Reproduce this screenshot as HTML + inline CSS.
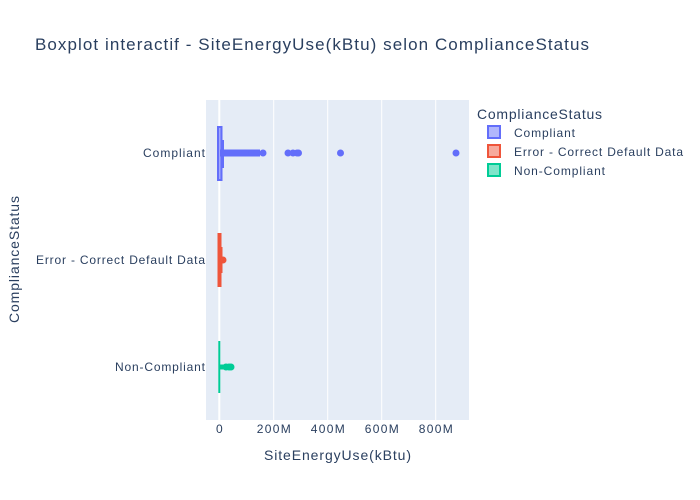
<!DOCTYPE html>
<html><head><style>body{margin:0;background:#fff}svg{display:block;font-family:"Liberation Sans",Arial,sans-serif}</style></head>
<body>
<svg width="700" height="500" xmlns="http://www.w3.org/2000/svg">
<rect width="700" height="500" fill="#fff"/>
<rect x="206" y="100" width="263" height="320" fill="#e5ecf6"/>
<g stroke="#fff" stroke-width="1">
<line x1="273.7" y1="100" x2="273.7" y2="420"/><line x1="327.7" y1="100" x2="327.7" y2="420"/>
<line x1="381.7" y1="100" x2="381.7" y2="420"/><line x1="435.7" y1="100" x2="435.7" y2="420"/>
</g>
<line x1="219.3" y1="100" x2="219.3" y2="420" stroke="#fff" stroke-width="2"/>
<g fill="#636efa" stroke="#636efa">
<rect x="218" y="127" width="3.5" height="53" fill="rgba(99,110,250,0.6)" stroke-width="2"/>
<line x1="223" y1="140" x2="223" y2="168" stroke-width="2"/>
<rect x="220" y="149.5" width="40" height="7" stroke="none"/>
<circle cx="245" cy="153" r="3"/><circle cx="252" cy="153" r="3"/><circle cx="257" cy="153" r="3"/><circle cx="263" cy="153" r="3"/>
<circle cx="288" cy="153" r="3"/><circle cx="293" cy="153" r="3"/><circle cx="297" cy="153" r="3"/><circle cx="298.5" cy="153" r="3"/>
<circle cx="340.5" cy="153" r="3"/><circle cx="456" cy="153" r="3"/>
</g>
<g fill="#ef553b" stroke="#ef553b">
<rect x="218.5" y="234" width="2" height="52" fill="rgba(239,85,59,0.6)" stroke-width="2"/>
<line x1="221.5" y1="247" x2="221.5" y2="273" stroke-width="2"/>
<rect x="219" y="257" width="4" height="6" stroke="none"/>
<circle cx="223" cy="260" r="3"/>
</g>
<g fill="#00cc96" stroke="#00cc96">
<line x1="219.3" y1="341" x2="219.3" y2="393" stroke-width="2"/>
<rect x="219" y="364.5" width="8" height="5" stroke="none"/>
<circle cx="226" cy="367" r="3"/><circle cx="229" cy="367" r="3"/><circle cx="231" cy="367" r="3"/>
</g>
<g fill="#2a3f5f" font-size="12">
<text x="219.3" y="433" text-anchor="middle">0</text>
<text x="273.7" y="433" text-anchor="middle" textLength="34">200M</text>
<text x="327.7" y="433" text-anchor="middle" textLength="34">400M</text>
<text x="381.7" y="433" text-anchor="middle" textLength="34">600M</text>
<text x="435.7" y="433" text-anchor="middle" textLength="34">800M</text>
<text x="143" y="157" textLength="62">Compliant</text>
<text x="36" y="264" textLength="169">Error - Correct Default Data</text>
<text x="115" y="371" textLength="90">Non-Compliant</text>
<text x="264" y="460" font-size="14" textLength="147">SiteEnergyUse(kBtu)</text>
<text transform="translate(19,323) rotate(-90)" font-size="14" textLength="127">ComplianceStatus</text>
<text x="35" y="50" font-size="17" textLength="554">Boxplot interactif - SiteEnergyUse(kBtu) selon ComplianceStatus</text>
<text x="477" y="119" font-size="14" textLength="125">ComplianceStatus</text>
<text x="514" y="137" textLength="61">Compliant</text>
<text x="514" y="156" textLength="169">Error - Correct Default Data</text>
<text x="514" y="175" textLength="91">Non-Compliant</text>
</g>
<rect x="488" y="126" width="12" height="12" fill="rgba(99,110,250,0.5)" stroke="#636efa" stroke-width="2"/>
<rect x="488" y="145" width="12" height="12" fill="rgba(239,85,59,0.5)" stroke="#ef553b" stroke-width="2"/>
<rect x="488" y="164" width="12" height="12" fill="rgba(0,204,150,0.5)" stroke="#00cc96" stroke-width="2"/>
</svg>
</body></html>
